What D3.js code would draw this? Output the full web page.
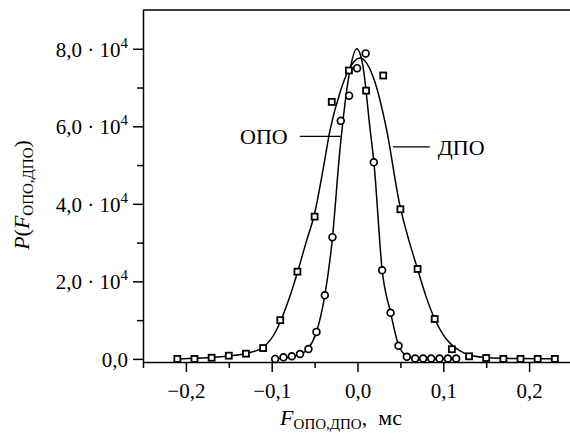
<!DOCTYPE html>
<html>
<head>
<meta charset="utf-8">
<script src="https://cdn.jsdelivr.net/npm/d3@7"></script>
<style>
body { margin: 0; background: #fff; }
svg { display: block; }
text { font-family: "Liberation Serif", "DejaVu Serif", serif; fill: #000; }
</style>
</head>
<body>
<div id="chart"></div>
<script>
// измерения ОПО (кружки)
const opoX = [-0.096, -0.0863, -0.0766, -0.067, -0.0572, -0.0478, -0.0381, -0.0292, -0.0195, -0.0098, -0.0005, 0.0095,
              0.019, 0.0287, 0.0385, 0.0478, 0.0575, 0.0672, 0.0765, 0.0859, 0.0956, 0.1053, 0.115];
const opoY = [0, 400, 670, 1260, 2550, 6970, 16400, 31400, 61400, 67900, 75000, 78800,
              50700, 22850, 11900, 3400, 570, 100, 120, 120, 120, 120, 100];

// измерения ДПО (квадраты)
const dpoX = [-0.21, -0.19, -0.17, -0.15, -0.13, -0.11, -0.09, -0.07, -0.05, -0.03, -0.01, 0.01,
              0.03, 0.05, 0.07, 0.09, 0.11, 0.13, 0.15, 0.17, 0.19, 0.21, 0.23];
const dpoY = [0, 0, 300, 830, 1350, 2800, 10000, 22500, 36700, 66300, 74400, 69200,
              73100, 38600, 23200, 10300, 2500, 670, 230, 0, 0, 0, 0];

// аппроксимирующие кривые
const opoFitX = [-0.096, -0.086, -0.076, -0.067, -0.058, -0.048, -0.038, -0.03, -0.02, -0.01, -0.001,
                 0.006, 0.0143, 0.0194, 0.0287, 0.0385, 0.0478, 0.057, 0.067, 0.077, 0.09, 0.115];
const opoFitY = [50, 250, 550, 1150, 2500, 6800, 16500, 29500, 55000, 73000, 80000,
                 76000, 60000, 50000, 23000, 12000, 3600, 800, 150, 50, 20, 0];

const dpoFitX = [-0.21, -0.19, -0.17, -0.15, -0.13, -0.11, -0.095, -0.083, -0.07, -0.06, -0.05, -0.04,
                 -0.032, -0.02, -0.011, 0.003, 0.02, 0.034, 0.049, 0.06, 0.07, 0.08, 0.09, 0.1,
                 0.108, 0.12, 0.13, 0.15, 0.17, 0.19, 0.21, 0.23];
const dpoFitY = [0, 150, 350, 750, 1400, 3000, 7200, 13500, 22300, 30000, 37500, 49000,
                 59000, 69000, 74200, 77600, 71600, 59000, 40000, 30500, 23200, 16000, 10300, 6200,
                 4000, 2000, 1000, 350, 150, 80, 30, 0];

const xTicks = [-0.2, -0.1, 0, 0.1, 0.2];
const xMinor = [-0.25, -0.15, -0.05, 0.05, 0.15, 0.25];
const yTicks = [0, 20000, 40000, 60000, 80000];
const yMinor = [10000, 30000, 50000, 70000];

const width = 570, height = 433;
const serif = '"Liberation Serif", "DejaVu Serif", serif';

const svg = d3.select("#chart")
    .append("svg")
    .attr("width", width)
    .attr("height", height)
    .attr("font-family", serif);

const x = d3.scaleLinear().domain([-0.25, 0.25]).range([143, 572]);
const y = d3.scaleLinear().domain([-800, 90000]).range([362, 10]);

const fmt = v => (v < 0 ? "\u2212" : "") + Math.abs(v).toFixed(1).replace(".", ",");

// верхняя рамка
svg.append("line")
    .attr("x1", x(-0.25)).attr("x2", x(0.25))
    .attr("y1", y(90000)).attr("y2", y(90000))
    .attr("stroke", "#000").attr("stroke-width", 1.5);

// ось X
const xAxis = svg.append("g")
    .attr("transform", `translate(0,${y(-800)})`)
    .call(d3.axisBottom(x).tickValues(xTicks).tickSize(10).tickSizeOuter(0).tickPadding(11).tickFormat(fmt))
    .attr("font-family", serif);
svg.append("g")
    .attr("transform", `translate(0,${y(-800)})`)
    .call(d3.axisBottom(x).tickValues(xMinor).tickSize(6).tickSizeOuter(0).tickFormat(""))
    .select(".domain").remove();
xAxis.selectAll("text").attr("font-size", 21);

// ось Y
svg.append("g")
    .attr("transform", `translate(${x(-0.25)},0)`)
    .call(d3.axisLeft(y).tickValues(yTicks).tickSize(10).tickSizeOuter(0).tickFormat(""));
svg.append("g")
    .attr("transform", `translate(${x(-0.25)},0)`)
    .call(d3.axisLeft(y).tickValues(yMinor).tickSize(6).tickSizeOuter(0).tickFormat(""))
    .select(".domain").remove();

svg.selectAll(".domain, .tick line").attr("stroke", "#000").attr("stroke-width", 1.5);

const yLab = svg.append("g")
    .selectAll("text")
    .data(yTicks)
    .join("text")
    .attr("x", x(-0.25) - 15)
    .attr("y", d => y(d))
    .attr("dy", "0.38em")
    .attr("text-anchor", "end")
    .attr("font-size", 21);
yLab.each(function(d) {
    const t = d3.select(this);
    if (d === 0) { t.text("0,0"); return; }
    t.append("tspan").text((d / 10000).toFixed(1).replace(".", ",") + " \u00b7 10");
    t.append("tspan").attr("dy", -9).attr("font-size", 15).text("4");
});

// подписи осей
const xt = svg.append("text")
    .attr("x", 341)
    .attr("y", 425)
    .attr("text-anchor", "middle")
    .attr("font-size", 22);
xt.append("tspan").attr("font-style", "italic").text("F");
xt.append("tspan").attr("dy", 4).attr("font-size", 15).text("ОПО,ДПО");
xt.append("tspan").attr("dy", -4).text(",\u00a0\u00a0мс");

const yt = svg.append("text")
    .attr("transform", "translate(29,195) rotate(-90)")
    .attr("text-anchor", "middle")
    .attr("font-size", 22);
yt.append("tspan").attr("font-style", "italic").text("P");
yt.append("tspan").text("(");
yt.append("tspan").attr("font-style", "italic").text("F");
yt.append("tspan").attr("dy", 4).attr("font-size", 15).text("ОПО,ДПО");
yt.append("tspan").attr("dy", -4).text(")");

// кривые
const line = d3.line()
    .x(d => x(d[0]))
    .y(d => y(d[1]))
    .curve(d3.curveMonotoneX);

const fits = [d3.zip(opoFitX, opoFitY), d3.zip(dpoFitX, dpoFitY)];
svg.append("g")
    .selectAll("path")
    .data(fits)
    .join("path")
    .attr("d", line)
    .attr("fill", "none")
    .attr("stroke", "#000")
    .attr("stroke-width", 1.5);

// маркеры
svg.append("g")
    .selectAll("rect")
    .data(d3.zip(dpoX, dpoY))
    .join("rect")
    .attr("x", d => x(d[0]) - 3)
    .attr("y", d => y(d[1]) - 3)
    .attr("width", 6)
    .attr("height", 6)
    .attr("fill", "#fff")
    .attr("stroke", "#000")
    .attr("stroke-width", 1.8);

svg.append("g")
    .selectAll("circle")
    .data(d3.zip(opoX, opoY))
    .join("circle")
    .attr("cx", d => x(d[0]))
    .attr("cy", d => y(d[1]))
    .attr("r", 3.4)
    .attr("fill", "#fff")
    .attr("stroke", "#000")
    .attr("stroke-width", 1.7);

// выноски
const notes = [
    { name: "ОПО", x0: -0.0673, x1: -0.0195, y: 57400, anchor: "end" },
    { name: "ДПО", x0: 0.0415, x1: 0.0843, y: 54700, anchor: "start" }
];
svg.append("g")
    .selectAll("line")
    .data(notes)
    .join("line")
    .attr("x1", d => x(d.x0)).attr("x2", d => x(d.x1))
    .attr("y1", d => y(d.y)).attr("y2", d => y(d.y))
    .attr("stroke", "#000").attr("stroke-width", 1.2);
svg.append("g")
    .selectAll("text")
    .data(notes)
    .join("text")
    .attr("x", d => d.anchor === "end" ? x(d.x0) - 12 : x(d.x1) + 8)
    .attr("y", d => y(d.y))
    .attr("dy", "0.35em")
    .attr("text-anchor", d => d.anchor)
    .attr("font-size", 22)
    .text(d => d.name);
</script>
</body>
</html>
